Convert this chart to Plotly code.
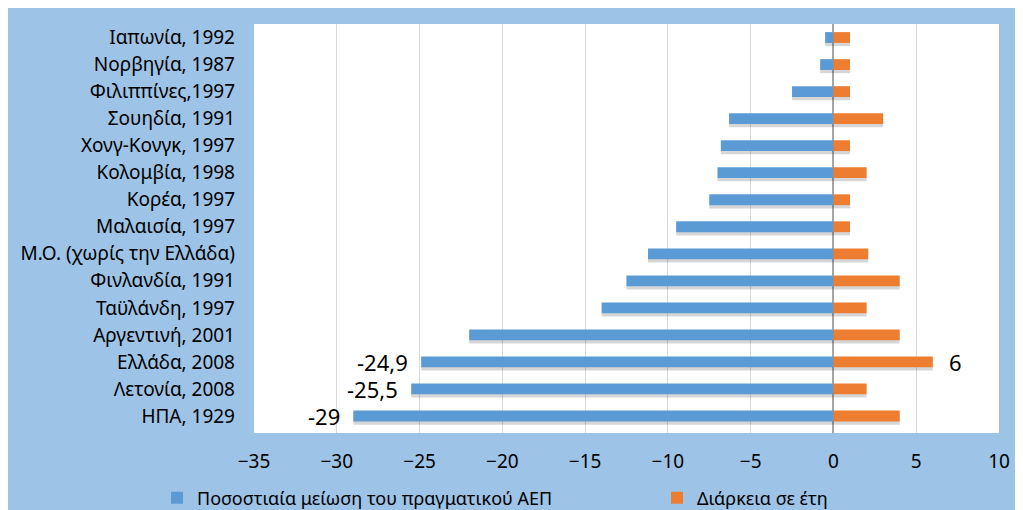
import plotly.graph_objects as go

categories = [
    "Ιαπωνία, 1992", "Νορβηγία, 1987", "Φιλιππίνες,1997", "Σουηδία, 1991",
    "Χονγ-Κονγκ, 1997", "Κολομβία, 1998", "Κορέα, 1997", "Μαλαισία, 1997",
    "Μ.Ο. (χωρίς την Ελλάδα)", "Φινλανδία, 1991", "Ταϋλάνδη, 1997",
    "Αργεντινή, 2001", "Ελλάδα, 2008", "Λετονία, 2008", "ΗΠΑ, 1929",
]
gdp_decline = [-0.5, -0.8, -2.5, -6.3, -6.8, -7.0, -7.5, -9.5,
               -11.2, -12.5, -14.0, -22.0, -24.9, -25.5, -29.0]
duration_years = [1, 1, 1, 3, 1, 2, 1, 1, 2.1, 4, 2, 4, 6, 2, 4]
gdp_labels = ["", "", "", "", "", "", "", "", "", "", "", "", "-24,9", "-25,5", "-29"]
duration_labels = ["", "", "", "", "", "", "", "", "", "", "", "", "6", "", ""]

series_names = ["Ποσοστιαία μείωση του πραγματικού ΑΕΠ", "Διάρκεια σε έτη"]
x_ticks = [-35, -30, -25, -20, -15, -10, -5, 0, 5, 10]

BLUE = "#5B9BD5"
ORANGE = "#ED7D31"
BG = "#9DC3E6"
FONT = "Noto Sans"

fig = go.Figure()

# soft shadows under the bars
for vals in (gdp_decline, duration_years):
    fig.add_trace(go.Bar(
        y=categories, x=vals, orientation="h",
        marker=dict(color="rgba(0,0,0,0.16)", line=dict(width=0)),
        width=0.48, offset=-0.16, showlegend=False, hoverinfo="skip",
    ))

fig.add_trace(go.Bar(
    y=categories, x=gdp_decline, orientation="h", name=series_names[0],
    marker=dict(color=BLUE, line=dict(width=0)), width=0.4, legend="legend",
))
fig.add_trace(go.Bar(
    y=categories, x=duration_years, orientation="h", name=series_names[1],
    marker=dict(color=ORANGE, line=dict(width=0)), width=0.4, legend="legend2",
))

annotations = []
for cat, v, t in zip(categories, gdp_decline, gdp_labels):
    if t:
        annotations.append(dict(x=v, y=cat, text=t, showarrow=False,
                                xanchor="right", xshift=-11,
                                font=dict(family=FONT, size=22, color="#000000")))
for cat, v, t in zip(categories, duration_years, duration_labels):
    if t:
        annotations.append(dict(x=v, y=cat, text=t, showarrow=False,
                                xanchor="left", xshift=14,
                                font=dict(family=FONT, size=22, color="#000000")))

# page body adds an 8px offset; figure fills the rest of the window
W, H = 1015, 502
ml, mr, mt, mb = 246, 24, 16, 77
pw, ph = W - ml - mr, H - mt - mb

legend_common = dict(orientation="h", xanchor="left", y=-65 / ph, yanchor="middle",
                     font=dict(family=FONT, size=18), bgcolor="rgba(0,0,0,0)")

fig.update_layout(
    width=W, height=H,
    margin=dict(l=ml, r=mr, t=mt, b=mb, pad=0, autoexpand=False),
    paper_bgcolor=BG, plot_bgcolor="white",
    barmode="overlay",
    font=dict(family=FONT, size=19, color="#000000"),
    xaxis=dict(range=[-35, 10], tickvals=x_ticks,
               showgrid=True, gridcolor="#D9D9D9", gridwidth=1,
               zeroline=True, zerolinecolor="#A6A6A6", zerolinewidth=1.5,
               showline=False, ticks="", ticklabelstandoff=15,
               tickfont=dict(family=FONT, size=19)),
    yaxis=dict(autorange="reversed", showgrid=False, zeroline=False,
               ticks="", ticklabelstandoff=18, showline=False,
               tickfont=dict(family=FONT, size=19)),
    legend=dict(x=(149 - ml) / pw, **legend_common),
    legend2=dict(x=(649 - ml) / pw, **legend_common),
    annotations=annotations,
)

fig.write_html("out.html")
